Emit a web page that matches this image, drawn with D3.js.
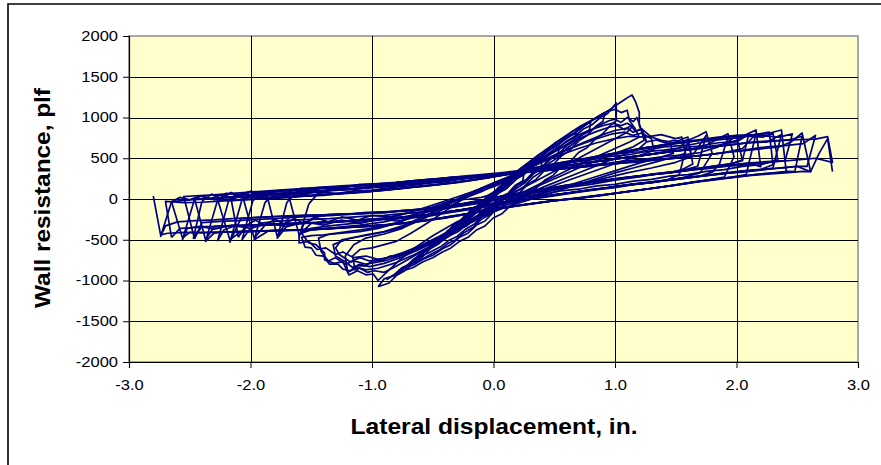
<!DOCTYPE html>
<html>
<head>
<meta charset="utf-8">
<script src="https://cdn.jsdelivr.net/npm/d3@7"></script>
<style>
  body { margin: 0; background: #fff; }
  svg { display: block; }
</style>
</head>
<body>
<svg id="chart" width="881" height="465"></svg>
<script>
// Axis ticks
const xTicks = [-3, -2, -1, 0, 1, 2, 3];
const yTicks = [-2000, -1500, -1000, -500, 0, 500, 1000, 1500, 2000];

// Small-amplitude cycles on the stiff initial branch: [displacement in., resistance plf]
const elasticCycles = [
  [[-0.25,-300],[-0.18,-200],[-0.12,-140],[-0.05,-20],[0.02,50],[0.08,130],[0.15,190],[0.20,260],[0.25,300],[0.24,220],[0.18,170],[0.12,70],[0.05,20],[-0.02,-90],[-0.08,-130],[-0.15,-230],[-0.20,-250],[-0.25,-300]],
  [[-0.38,-430],[-0.32,-330],[-0.26,-290],[-0.20,-180],[-0.14,-130],[-0.08,-40],[-0.02,10],[0.04,110],[0.10,150],[0.16,240],[0.22,290],[0.28,370],[0.34,410],[0.40,470],[0.39,370],[0.33,320],[0.27,220],[0.20,170],[0.14,70],[0.08,20],[0.02,-80],[-0.04,-120],[-0.10,-220],[-0.16,-250],[-0.22,-330],[-0.30,-380],[-0.38,-430]],
  [[-0.52,-600],[-0.46,-520],[-0.40,-440],[-0.33,-380],[-0.26,-270],[-0.19,-210],[-0.12,-100],[-0.05,-40],[0.02,70],[0.09,130],[0.16,240],[0.23,310],[0.30,400],[0.37,460],[0.44,530],[0.50,600],[0.55,650],[0.53,560],[0.47,510],[0.41,410],[0.34,350],[0.27,240],[0.20,180],[0.13,70],[0.06,10],[-0.01,-100],[-0.08,-160],[-0.15,-260],[-0.22,-310],[-0.29,-400],[-0.36,-450],[-0.44,-530],[-0.52,-600]],
  [[-0.66,-760],[-0.60,-700],[-0.53,-600],[-0.46,-540],[-0.39,-430],[-0.32,-370],[-0.25,-260],[-0.18,-190],[-0.11,-80],[-0.04,-20],[0.03,100],[0.10,160],[0.17,270],[0.24,340],[0.31,440],[0.38,500],[0.45,590],[0.52,650],[0.58,720],[0.63,770],[0.68,810],[0.66,710],[0.60,650],[0.54,560],[0.47,490],[0.40,380],[0.33,310],[0.26,200],[0.19,130],[0.12,30],[0.05,-40],[-0.02,-150],[-0.09,-210],[-0.16,-310],[-0.23,-370],[-0.30,-460],[-0.37,-510],[-0.44,-590],[-0.52,-650],[-0.59,-700],[-0.66,-760]],
  [[-0.78,-880],[-0.72,-830],[-0.66,-740],[-0.59,-680],[-0.52,-570],[-0.45,-510],[-0.38,-390],[-0.31,-330],[-0.24,-210],[-0.17,-150],[-0.10,-40],[-0.03,30],[0.04,140],[0.11,200],[0.18,310],[0.25,370],[0.32,470],[0.39,530],[0.46,620],[0.53,680],[0.60,760],[0.67,810],[0.74,890],[0.80,950],[0.79,850],[0.73,790],[0.67,690],[0.60,620],[0.53,510],[0.46,440],[0.39,330],[0.32,260],[0.25,150],[0.18,90],[0.11,-20],[0.04,-80],[-0.03,-190],[-0.10,-250],[-0.17,-350],[-0.24,-410],[-0.31,-500],[-0.38,-550],[-0.45,-630],[-0.52,-680],[-0.60,-750],[-0.68,-800],[-0.78,-880]],
  [[-0.88,-990],[-0.82,-930],[-0.75,-840],[-0.68,-790],[-0.61,-680],[-0.54,-620],[-0.47,-500],[-0.40,-440],[-0.33,-320],[-0.26,-260],[-0.19,-140],[-0.12,-80],[-0.05,40],[0.02,100],[0.09,210],[0.16,270],[0.23,380],[0.30,440],[0.37,540],[0.44,600],[0.51,690],[0.58,750],[0.65,830],[0.72,880],[0.79,950],[0.86,1000],[0.92,1060],[0.90,950],[0.84,890],[0.77,780],[0.70,710],[0.63,600],[0.56,530],[0.49,420],[0.42,350],[0.35,240],[0.28,180],[0.21,70],[0.14,10],[0.07,-100],[0.00,-160],[-0.07,-270],[-0.14,-320],[-0.21,-420],[-0.28,-470],[-0.35,-560],[-0.42,-610],[-0.50,-690],[-0.58,-740],[-0.66,-810],[-0.74,-860],[-0.82,-930],[-0.88,-990]],
  [[-0.95,-1076],[-0.86,-1031],[-0.80,-940],[-0.73,-880],[-0.66,-780],[-0.59,-720],[-0.52,-610],[-0.45,-550],[-0.38,-440],[-0.31,-380],[-0.24,-270],[-0.17,-210],[-0.10,-100],[-0.03,-40],[0.04,70],[0.11,130],[0.18,240],[0.25,300],[0.32,400],[0.39,460],[0.46,560],[0.53,620],[0.60,710],[0.67,770],[0.74,860],[0.81,910],[0.88,1000],[0.94,1050],[1.01,1178],[1.01,960],[0.96,900],[0.90,800],[0.84,740],[0.77,630],[0.70,570],[0.63,460],[0.56,400],[0.49,290],[0.42,230],[0.35,130],[0.28,70],[0.21,-30],[0.14,-80],[0.07,-180],[0.00,-230],[-0.07,-330],[-0.14,-380],[-0.21,-470],[-0.28,-520],[-0.35,-600],[-0.42,-650],[-0.50,-720],[-0.58,-770],[-0.66,-840],[-0.74,-880],[-0.82,-940],[-0.90,-980],[-0.95,-1076]]
];

// Cycles around peak capacity
const peakCycles = [
  [[-0.20,-170],[-0.10,-40],[0.00,80],[0.10,200],[0.20,310],[0.30,430],[0.40,540],[0.50,650],[0.60,750],[0.68,830],[0.76,910],[0.84,990],[0.90,1050],[0.95,1090],[1.00,1140],[1.04,1180],[1.08,1220],[1.11,1250],[1.14,1276],[1.17,1190],[1.20,1060],[1.20,900],[1.26,700],[1.34,724],[1.41,690],[1.48,720],[1.55,700],[1.60,730],[1.63,520],[1.50,450],[1.30,380],[1.10,320],[0.90,250],[0.70,180],[0.50,110],[0.30,40],[0.10,-40],[-0.10,-140],[-0.30,-280],[-0.50,-450],[-0.65,-600],[-0.78,-760],[-0.88,-900],[-0.95,-1000],[-0.99,-920],[-1.05,-930],[-1.12,-880],[-1.19,-932],[-1.24,-769],[-1.31,-790],[-1.39,-748],[-1.39,-665],[-1.46,-560],[-1.52,-540],[-1.58,-421],[-1.50,-360],[-1.35,-330],[-1.15,-300],[-0.95,-260],[-0.75,-190],[-0.55,-100],[-0.35,0],[-0.15,100],[0.05,200],[0.20,280]],
  [[0.20,280],[0.30,380],[0.40,480],[0.50,580],[0.60,670],[0.70,760],[0.80,840],[0.88,910],[0.95,960],[1.00,980],[1.05,940],[1.10,1000],[1.15,950],[1.18,1000],[1.21,880],[1.24,720],[1.15,640],[1.00,560],[0.85,470],[0.70,380],[0.55,280],[0.40,180],[0.25,80],[0.10,-30],[-0.05,-150],[-0.20,-290],[-0.35,-430],[-0.50,-560],[-0.65,-680],[-0.80,-780],[-0.95,-850],[-1.05,-870],[-1.12,-840],[-1.20,-900],[-1.22,-700],[-1.15,-560],[-1.05,-480],[-0.90,-430],[-0.75,-360],[-0.60,-250],[-0.45,-130],[-0.30,-10],[-0.15,100],[0.00,200],[0.15,290]],
  [[0.15,290],[0.25,370],[0.35,460],[0.45,540],[0.55,620],[0.65,700],[0.75,770],[0.85,830],[0.95,880],[1.02,900],[1.08,850],[1.13,900],[1.17,830],[1.22,860],[1.26,700],[1.20,620],[1.05,530],[0.90,440],[0.75,350],[0.60,260],[0.45,170],[0.30,80],[0.15,-10],[0.00,-110],[-0.15,-230],[-0.30,-360],[-0.45,-490],[-0.60,-610],[-0.75,-710],[-0.90,-790],[-1.02,-830],[-1.10,-800],[-1.16,-840],[-1.22,-770],[-1.30,-700],[-1.32,-560],[-1.20,-490],[-1.05,-440],[-0.90,-400],[-0.75,-330],[-0.60,-230],[-0.45,-120],[-0.30,-10],[-0.15,100],[0.00,190],[0.15,280]],
  [[0.15,280],[0.30,390],[0.45,500],[0.60,600],[0.75,700],[0.90,790],[1.00,840],[1.10,870],[1.15,820],[1.22,860],[1.30,760],[1.38,720],[1.45,700],[1.48,560],[1.35,500],[1.20,440],[1.05,370],[0.90,300],[0.75,230],[0.60,160],[0.45,90],[0.30,20],[0.15,-50],[0.00,-130],[-0.15,-230],[-0.30,-350],[-0.45,-470],[-0.60,-590],[-0.75,-690],[-0.90,-760],[-1.05,-800],[-1.15,-760],[-1.22,-800],[-1.30,-720],[-1.36,-760],[-1.42,-640],[-1.44,-480],[-1.35,-430],[-1.20,-400],[-1.05,-370],[-0.90,-330],[-0.75,-270],[-0.60,-190],[-0.45,-100],[-0.30,0],[-0.15,100],[0.00,190],[0.15,270]],
  [[0.10,250],[0.25,360],[0.40,470],[0.55,570],[0.70,660],[0.85,740],[0.98,800],[1.08,820],[1.15,780],[1.22,810],[1.30,740],[1.32,600],[1.20,530],[1.05,460],[0.90,380],[0.75,300],[0.60,220],[0.45,140],[0.30,60],[0.15,-20],[0.00,-110],[-0.15,-220],[-0.30,-340],[-0.45,-460],[-0.60,-570],[-0.75,-660],[-0.90,-730],[-1.02,-760],[-1.10,-720],[-1.18,-770],[-1.27,-680],[-1.30,-600],[-1.25,-500],[-1.10,-460],[-0.95,-420],[-0.80,-370],[-0.65,-290],[-0.50,-190],[-0.35,-80],[-0.20,40],[-0.05,150],[0.10,250]],
  [[0.10,240],[0.25,350],[0.40,450],[0.55,540],[0.70,620],[0.85,690],[1.00,740],[1.12,770],[1.25,760],[1.38,790],[1.50,740],[1.55,760],[1.58,560],[1.45,500],[1.30,440],[1.15,380],[1.00,320],[0.85,250],[0.70,180],[0.55,110],[0.40,40],[0.25,-30],[0.10,-100],[-0.05,-190],[-0.20,-300],[-0.35,-410],[-0.50,-520],[-0.65,-620],[-0.80,-700],[-0.95,-740],[-1.05,-700],[-1.15,-720],[-1.24,-650],[-1.30,-680],[-1.38,-600],[-1.45,-620],[-1.52,-520],[-1.60,-540],[-1.60,-430],[-1.50,-380],[-1.30,-350],[-1.10,-320],[-0.90,-280],[-0.70,-210],[-0.50,-120],[-0.30,-20],[-0.10,90],[0.10,240]],
  [[0.05,180],[0.20,350],[0.35,520],[0.50,680],[0.62,800],[0.72,900],[0.80,960],[0.88,1030],[0.95,1080],[1.00,1100],[1.05,1060],[1.10,1090],[1.12,960],[1.15,900],[1.10,820],[0.95,700],[0.80,580],[0.65,460],[0.50,340],[0.35,220],[0.20,100],[0.05,-30],[-0.10,-170],[-0.25,-320],[-0.40,-470],[-0.55,-610],[-0.70,-740],[-0.82,-840],[-0.90,-900],[-0.98,-880],[-1.04,-900],[-1.10,-850],[-1.14,-870],[-1.16,-700],[-1.10,-620],[-1.00,-600],[-0.90,-560],[-0.80,-520],[-0.68,-420],[-0.55,-300],[-0.40,-150],[-0.25,0],[-0.10,100],[0.05,180]],
  [[0.00,60],[0.15,230],[0.30,400],[0.45,560],[0.60,700],[0.72,800],[0.82,860],[0.90,900],[0.98,930],[1.05,900],[1.10,930],[1.16,880],[1.20,760],[1.12,700],[1.00,620],[0.85,520],[0.70,420],[0.55,310],[0.40,200],[0.25,90],[0.10,-30],[-0.05,-160],[-0.20,-290],[-0.35,-420],[-0.50,-540],[-0.65,-640],[-0.78,-700],[-0.85,-700],[-0.92,-760],[-1.00,-760],[-1.05,-820],[-1.12,-820],[-1.18,-880],[-1.24,-860],[-1.28,-800],[-1.35,-800],[-1.40,-700],[-1.46,-690],[-1.50,-600],[-1.55,-590],[-1.58,-470],[-1.50,-450],[-1.40,-440],[-1.25,-420],[-1.10,-400],[-0.95,-360],[-0.80,-300],[-0.65,-200],[-0.50,-100],[-0.35,-20],[-0.20,0],[-0.10,20],[0.00,60]]
];

// Large post-peak cycles, two at each target amplitude
const wideCycles = [
  [[-1.52,-60],[-1.45,60],[-1.30,140],[-1.20,150],[-1.10,180],[-0.95,175],[-0.80,200],[-0.65,225],[-0.50,235],[-0.35,270],[-0.20,275],[-0.05,300],[0.10,315],[0.25,350],[0.40,385],[0.55,440],[0.70,470],[0.85,525],[1.00,550],[1.15,600],[1.30,640],[1.40,660],[1.50,700],[1.56,740],[1.60,760],[1.64,430],[1.55,360],[1.45,320],[1.35,310],[1.20,280],[1.05,250],[0.90,230],[0.75,190],[0.60,170],[0.45,120],[0.30,100],[0.15,50],[0.00,20],[-0.15,-40],[-0.30,-70],[-0.45,-100],[-0.60,-135],[-0.75,-140],[-0.90,-170],[-1.05,-165],[-1.20,-190],[-1.35,-190],[-1.48,-230],[-1.56,-300],[-1.60,-460],[-1.52,-60]],
  [[-1.60,-440],[-1.50,-300],[-1.40,-290],[-1.25,-270],[-1.10,-265],[-0.95,-240],[-0.80,-235],[-0.65,-210],[-0.50,-190],[-0.35,-150],[-0.20,-120],[-0.05,-80],[0.10,-40],[0.25,0],[0.40,30],[0.55,60],[0.70,95],[0.85,120],[1.00,150],[1.15,185],[1.30,200],[1.42,230],[1.53,300],[1.60,720],[1.52,620],[1.40,580],[1.25,540],[1.10,515],[0.95,475],[0.80,455],[0.65,420],[0.50,395],[0.35,360],[0.20,335],[0.05,305],[-0.10,280],[-0.25,255],[-0.40,225],[-0.55,200],[-0.70,185],[-0.85,155],[-1.00,145],[-1.15,120],[-1.30,115],[-1.45,85],[-1.58,60],[-1.68,10],[-1.60,-440]],
  [[-1.70,-40],[-1.62,90],[-1.50,120],[-1.35,150],[-1.20,150],[-1.05,180],[-0.90,180],[-0.75,210],[-0.60,220],[-0.45,250],[-0.30,260],[-0.15,285],[0.00,300],[0.15,325],[0.30,360],[0.45,400],[0.60,450],[0.75,480],[0.90,530],[1.05,560],[1.20,610],[1.35,640],[1.50,690],[1.60,720],[1.68,770],[1.75,826],[1.80,560],[1.70,320],[1.55,260],[1.40,225],[1.25,200],[1.10,175],[0.95,140],[0.80,115],[0.65,80],[0.50,55],[0.35,15],[0.20,-10],[0.05,-60],[-0.10,-85],[-0.25,-135],[-0.40,-160],[-0.55,-200],[-0.70,-215],[-0.85,-245],[-1.00,-250],[-1.15,-265],[-1.30,-275],[-1.45,-290],[-1.60,-300],[-1.70,-330],[-1.78,-480],[-1.70,-40]],
  [[-1.78,-460],[-1.68,-220],[-1.55,-200],[-1.40,-200],[-1.25,-185],[-1.10,-180],[-0.95,-160],[-0.80,-150],[-0.65,-130],[-0.50,-110],[-0.35,-80],[-0.20,-40],[-0.05,0],[0.10,45],[0.25,80],[0.40,120],[0.55,150],[0.70,185],[0.85,215],[1.00,245],[1.15,275],[1.30,300],[1.45,320],[1.58,360],[1.68,400],[1.75,780],[1.65,560],[1.50,500],[1.35,485],[1.20,460],[1.05,445],[0.90,420],[0.75,400],[0.60,375],[0.45,355],[0.30,330],[0.15,310],[0.00,275],[-0.15,240],[-0.30,210],[-0.45,180],[-0.60,160],[-0.75,130],[-0.90,110],[-1.05,85],[-1.20,70],[-1.35,55],[-1.50,40],[-1.65,25],[-1.78,10],[-1.86,20],[-1.78,-460]],
  [[-1.88,-40],[-1.80,60],[-1.70,40],[-1.60,95],[-1.50,80],[-1.35,110],[-1.20,115],[-1.05,140],[-0.90,150],[-0.75,180],[-0.60,190],[-0.45,220],[-0.30,245],[-0.15,270],[0.00,295],[0.15,320],[0.30,350],[0.45,380],[0.60,410],[0.75,440],[0.90,470],[1.05,500],[1.20,530],[1.35,560],[1.50,590],[1.65,620],[1.75,660],[1.85,740],[1.93,800],[1.98,519],[1.90,270],[1.75,230],[1.60,190],[1.45,160],[1.30,130],[1.15,100],[1.00,70],[0.85,40],[0.70,10],[0.55,-15],[0.40,-40],[0.25,-70],[0.10,-100],[-0.05,-140],[-0.20,-175],[-0.35,-210],[-0.50,-250],[-0.65,-280],[-0.80,-310],[-0.95,-320],[-1.10,-340],[-1.25,-350],[-1.40,-370],[-1.55,-375],[-1.70,-385],[-1.85,-390],[-1.97,-500],[-1.88,-40]],
  [[-1.97,-480],[-1.88,-320],[-1.75,-305],[-1.60,-295],[-1.45,-290],[-1.30,-280],[-1.15,-265],[-1.00,-250],[-0.85,-240],[-0.70,-220],[-0.55,-200],[-0.40,-165],[-0.25,-130],[-0.10,-90],[0.05,-50],[0.20,-20],[0.35,15],[0.50,50],[0.65,80],[0.80,110],[0.95,140],[1.10,170],[1.25,195],[1.40,230],[1.55,255],[1.70,280],[1.80,330],[1.86,430],[1.93,760],[1.85,740],[1.75,730],[1.60,700],[1.45,670],[1.30,640],[1.15,600],[1.00,560],[0.85,520],[0.70,475],[0.55,440],[0.40,390],[0.25,350],[0.10,315],[-0.05,295],[-0.20,275],[-0.35,260],[-0.50,240],[-0.65,220],[-0.80,200],[-0.95,185],[-1.10,165],[-1.25,150],[-1.40,135],[-1.55,125],[-1.70,100],[-1.85,90],[-1.97,60],[-2.06,10],[-1.97,-480]],
  [[-2.07,-10],[-2.00,40],[-1.90,20],[-1.80,70],[-1.70,50],[-1.55,95],[-1.40,100],[-1.25,120],[-1.10,130],[-0.95,150],[-0.80,170],[-0.65,190],[-0.50,215],[-0.35,240],[-0.20,265],[-0.05,295],[0.10,315],[0.25,345],[0.40,370],[0.55,400],[0.70,430],[0.85,460],[1.00,490],[1.15,520],[1.30,550],[1.45,580],[1.60,610],[1.75,640],[1.90,670],[2.00,720],[2.08,790],[2.16,847],[2.20,397],[2.10,440],[1.95,410],[1.80,380],[1.65,360],[1.50,330],[1.35,310],[1.20,280],[1.05,255],[0.90,225],[0.75,195],[0.60,160],[0.45,130],[0.30,95],[0.15,55],[0.00,10],[-0.15,-30],[-0.30,-75],[-0.45,-105],[-0.60,-125],[-0.75,-145],[-0.90,-160],[-1.05,-170],[-1.20,-185],[-1.35,-190],[-1.50,-200],[-1.65,-205],[-1.80,-215],[-1.95,-225],[-2.08,-240],[-2.17,-530],[-2.07,-10]],
  [[-2.17,-500],[-2.08,-400],[-1.95,-395],[-1.80,-385],[-1.65,-385],[-1.50,-375],[-1.35,-365],[-1.20,-350],[-1.05,-335],[-0.90,-320],[-0.75,-300],[-0.60,-275],[-0.45,-240],[-0.30,-205],[-0.15,-165],[0.00,-125],[0.15,-95],[0.30,-60],[0.45,-30],[0.60,0],[0.75,20],[0.90,50],[1.05,80],[1.20,110],[1.35,140],[1.50,170],[1.65,210],[1.80,235],[1.95,265],[2.08,300],[2.16,800],[2.05,620],[1.90,570],[1.75,540],[1.60,520],[1.45,500],[1.30,480],[1.15,460],[1.00,430],[0.85,415],[0.70,390],[0.55,370],[0.40,345],[0.25,330],[0.10,305],[-0.05,260],[-0.20,225],[-0.35,195],[-0.50,170],[-0.65,150],[-0.80,125],[-0.95,110],[-1.10,85],[-1.25,70],[-1.40,45],[-1.55,35],[-1.70,20],[-1.85,5],[-2.00,-5],[-2.15,-20],[-2.27,-10],[-2.17,-500]],
  [[-2.27,-10],[-2.20,70],[-2.10,50],[-2.00,95],[-1.90,70],[-1.75,110],[-1.60,115],[-1.45,140],[-1.30,150],[-1.15,165],[-1.00,175],[-0.85,190],[-0.70,210],[-0.55,235],[-0.40,250],[-0.25,270],[-0.10,290],[0.05,310],[0.20,335],[0.35,375],[0.50,420],[0.65,460],[0.80,500],[0.95,540],[1.10,585],[1.25,620],[1.40,660],[1.55,690],[1.70,720],[1.85,750],[2.00,770],[2.15,790],[2.25,800],[2.37,847],[2.41,330],[2.30,319],[2.15,300],[2.00,270],[1.85,250],[1.70,220],[1.55,185],[1.40,150],[1.25,120],[1.10,90],[0.95,60],[0.80,30],[0.65,0],[0.50,-20],[0.35,-50],[0.20,-80],[0.05,-115],[-0.10,-150],[-0.25,-190],[-0.40,-225],[-0.55,-260],[-0.70,-290],[-0.85,-310],[-1.00,-330],[-1.15,-340],[-1.30,-355],[-1.45,-370],[-1.60,-380],[-1.75,-385],[-1.90,-395],[-2.05,-400],[-2.20,-405],[-2.30,-420],[-2.37,-520],[-2.27,-10]],
  [[-2.37,-500],[-2.30,-340],[-2.15,-330],[-2.00,-320],[-1.85,-315],[-1.70,-305],[-1.55,-295],[-1.40,-285],[-1.25,-275],[-1.10,-260],[-0.95,-245],[-0.80,-230],[-0.65,-205],[-0.50,-185],[-0.35,-150],[-0.20,-120],[-0.05,-80],[0.10,-45],[0.25,-5],[0.40,25],[0.55,55],[0.70,90],[0.85,120],[1.00,150],[1.15,180],[1.30,200],[1.45,235],[1.60,260],[1.75,285],[1.90,310],[2.05,340],[2.20,360],[2.30,380],[2.37,790],[2.25,700],[2.10,690],[1.95,665],[1.80,640],[1.65,615],[1.50,590],[1.35,560],[1.20,530],[1.05,500],[0.90,470],[0.75,440],[0.60,410],[0.45,380],[0.30,350],[0.15,325],[0.00,295],[-0.15,265],[-0.30,245],[-0.45,215],[-0.60,195],[-0.75,175],[-0.90,155],[-1.05,140],[-1.20,120],[-1.35,105],[-1.50,90],[-1.65,75],[-1.80,55],[-1.95,45],[-2.10,25],[-2.25,15],[-2.35,5],[-2.46,0],[-2.37,-500]],
  [[-2.46,0],[-2.40,40],[-2.30,-10],[-2.20,30],[-2.10,-10],[-2.00,20],[-1.85,20],[-1.70,35],[-1.55,40],[-1.40,55],[-1.25,70],[-1.10,85],[-0.95,100],[-0.80,120],[-0.65,145],[-0.50,170],[-0.35,200],[-0.20,230],[-0.05,265],[0.10,300],[0.25,325],[0.40,345],[0.55,370],[0.70,390],[0.85,410],[1.00,435],[1.15,455],[1.30,480],[1.45,495],[1.60,515],[1.75,540],[1.90,570],[2.05,590],[2.20,615],[2.35,640],[2.45,700],[2.54,810],[2.61,335],[2.50,400],[2.35,380],[2.20,355],[2.05,330],[1.90,315],[1.75,290],[1.60,260],[1.45,230],[1.30,205],[1.15,180],[1.00,155],[0.85,120],[0.70,90],[0.55,60],[0.40,25],[0.25,-10],[0.10,-40],[-0.05,-80],[-0.20,-120],[-0.35,-150],[-0.50,-190],[-0.65,-210],[-0.80,-230],[-0.95,-245],[-1.10,-260],[-1.25,-275],[-1.40,-285],[-1.55,-290],[-1.70,-305],[-1.85,-315],[-2.00,-320],[-2.15,-325],[-2.30,-335],[-2.45,-340],[-2.52,-360],[-2.56,-500],[-2.46,0]],
  [[-2.56,-480],[-2.50,-410],[-2.35,-410],[-2.20,-405],[-2.05,-400],[-1.90,-395],[-1.75,-385],[-1.60,-380],[-1.45,-370],[-1.30,-360],[-1.15,-345],[-1.00,-330],[-0.85,-315],[-0.70,-290],[-0.55,-265],[-0.40,-235],[-0.25,-195],[-0.10,-155],[0.05,-120],[0.20,-85],[0.35,-55],[0.50,-20],[0.65,5],[0.80,35],[0.95,60],[1.10,90],[1.25,120],[1.40,150],[1.55,185],[1.70,220],[1.85,250],[2.00,275],[2.15,300],[2.30,320],[2.42,340],[2.48,335],[2.54,770],[2.45,730],[2.30,715],[2.15,700],[2.00,675],[1.85,650],[1.70,625],[1.55,595],[1.40,570],[1.25,540],[1.10,515],[0.95,480],[0.80,450],[0.65,420],[0.50,390],[0.35,360],[0.20,330],[0.05,310],[-0.10,280],[-0.25,250],[-0.40,225],[-0.55,200],[-0.70,180],[-0.85,160],[-1.00,140],[-1.15,125],[-1.30,105],[-1.45,90],[-1.60,75],[-1.75,60],[-1.90,45],[-2.05,30],[-2.20,15],[-2.35,0],[-2.50,-10],[-2.65,-33],[-2.56,-480]],
  [[-2.65,-33],[-2.58,20],[-2.50,-10],[-2.42,40],[-2.34,0],[-2.25,50],[-2.15,20],[-2.05,60],[-1.95,40],[-1.80,70],[-1.65,80],[-1.50,95],[-1.35,110],[-1.20,120],[-1.05,140],[-0.90,155],[-0.75,175],[-0.60,195],[-0.45,215],[-0.30,245],[-0.15,265],[0.00,295],[0.15,320],[0.30,350],[0.45,380],[0.60,410],[0.75,440],[0.90,470],[1.05,500],[1.20,525],[1.35,560],[1.50,590],[1.65,610],[1.80,640],[1.95,665],[2.10,690],[2.25,705],[2.40,720],[2.55,730],[2.65,735],[2.75,765],[2.79,450],[2.65,500],[2.50,480],[2.35,460],[2.20,440],[2.05,415],[1.90,400],[1.75,375],[1.60,350],[1.45,320],[1.30,300],[1.15,270],[1.00,240],[0.85,215],[0.70,185],[0.55,150],[0.40,115],[0.25,80],[0.10,40],[-0.05,-5],[-0.20,-50],[-0.35,-85],[-0.50,-110],[-0.65,-135],[-0.80,-150],[-0.95,-165],[-1.10,-175],[-1.25,-185],[-1.40,-195],[-1.55,-200],[-1.70,-210],[-1.85,-220],[-2.00,-230],[-2.15,-240],[-2.30,-255],[-2.45,-265],[-2.60,-280],[-2.70,-330],[-2.74,-460],[-2.65,-33]]
];

// Intermediate-amplitude cycles between the target levels
const extraCycles = [
  [[-1.98,-20],[-1.92,50],[-1.84,0],[-1.76,60],[-1.68,10],[-1.60,70],[-1.50,40],[-1.40,80],[-1.28,70],[-1.15,100],[-1.00,110],[-0.85,140],[-0.70,160],[-0.55,190],[-0.40,210],[-0.25,250],[-0.10,280],[0.05,310],[0.20,330],[0.35,350],[0.50,370],[0.65,395],[0.80,420],[0.95,440],[1.10,470],[1.25,490],[1.40,520],[1.55,540],[1.70,570],[1.85,640],[1.95,720],[2.00,780],[2.05,470],[1.95,430],[1.80,400],[1.65,370],[1.50,340],[1.35,310],[1.20,285],[1.05,255],[0.90,220],[0.75,190],[0.60,150],[0.45,110],[0.30,70],[0.15,30],[0.00,-20],[-0.15,-60],[-0.30,-95],[-0.45,-130],[-0.60,-160],[-0.75,-180],[-0.90,-200],[-1.05,-210],[-1.20,-225],[-1.35,-240],[-1.50,-250],[-1.65,-260],[-1.80,-275],[-1.92,-300],[-2.00,-360],[-2.07,-500],[-1.98,-20]],
  [[-2.18,-20],[-2.12,60],[-2.04,20],[-1.96,90],[-1.88,40],[-1.80,100],[-1.70,80],[-1.58,130],[-1.45,120],[-1.30,150],[-1.15,160],[-1.00,180],[-0.85,190],[-0.70,215],[-0.55,240],[-0.40,255],[-0.25,280],[-0.10,300],[0.05,320],[0.20,345],[0.35,390],[0.50,430],[0.65,470],[0.80,510],[0.95,550],[1.10,590],[1.25,630],[1.40,665],[1.55,700],[1.70,730],[1.85,760],[2.00,780],[2.15,790],[2.27,820],[2.30,420],[2.20,365],[2.05,345],[1.90,320],[1.75,290],[1.60,260],[1.45,230],[1.30,200],[1.15,175],[1.00,140],[0.85,115],[0.70,85],[0.55,50],[0.40,15],[0.25,-15],[0.10,-50],[-0.05,-95],[-0.20,-130],[-0.35,-165],[-0.50,-200],[-0.65,-220],[-0.80,-240],[-0.95,-255],[-1.10,-265],[-1.25,-280],[-1.40,-290],[-1.55,-300],[-1.70,-310],[-1.85,-320],[-2.00,-330],[-2.15,-340],[-2.22,-380],[-2.27,-510],[-2.18,-20]],
  [[-2.46,-490],[-2.40,-290],[-2.25,-275],[-2.10,-265],[-1.95,-250],[-1.80,-240],[-1.65,-225],[-1.50,-215],[-1.35,-205],[-1.20,-190],[-1.05,-180],[-0.90,-165],[-0.75,-150],[-0.60,-130],[-0.45,-105],[-0.30,-75],[-0.15,-35],[0.00,10],[0.15,55],[0.30,90],[0.45,130],[0.60,170],[0.75,200],[0.90,230],[1.05,260],[1.20,285],[1.35,315],[1.50,335],[1.65,365],[1.80,395],[1.95,420],[2.10,440],[2.25,460],[2.40,470],[2.46,800],[2.35,760],[2.20,780],[2.05,775],[1.90,760],[1.75,730],[1.60,700],[1.45,680],[1.30,640],[1.15,600],[1.00,560],[0.85,520],[0.70,475],[0.55,435],[0.40,390],[0.25,350],[0.10,320],[-0.05,295],[-0.20,275],[-0.35,260],[-0.50,240],[-0.65,225],[-0.80,205],[-0.95,190],[-1.10,175],[-1.25,160],[-1.40,145],[-1.55,130],[-1.70,115],[-1.85,100],[-2.00,85],[-2.15,70],[-2.30,50],[-2.45,40],[-2.55,30],[-2.46,-490]],
  [[-2.65,-470],[-2.58,-360],[-2.45,-350],[-2.30,-340],[-2.15,-330],[-2.00,-320],[-1.85,-310],[-1.70,-300],[-1.55,-295],[-1.40,-285],[-1.25,-275],[-1.10,-260],[-0.95,-245],[-0.80,-225],[-0.65,-210],[-0.50,-185],[-0.35,-150],[-0.20,-115],[-0.05,-80],[0.10,-40],[0.25,0],[0.40,25],[0.55,60],[0.70,90],[0.85,125],[1.00,150],[1.15,180],[1.30,210],[1.45,235],[1.60,265],[1.75,285],[1.90,315],[2.05,340],[2.20,360],[2.35,380],[2.50,400],[2.58,400],[2.65,780],[2.55,680],[2.40,655],[2.25,640],[2.10,610],[1.95,580],[1.80,550],[1.65,525],[1.50,500],[1.35,480],[1.20,455],[1.05,440],[0.90,420],[0.75,395],[0.60,375],[0.45,350],[0.30,335],[0.15,310],[0.00,270],[-0.15,235],[-0.30,200],[-0.45,175],[-0.60,150],[-0.75,135],[-0.90,110],[-1.05,90],[-1.20,75],[-1.35,60],[-1.50,45],[-1.65,30],[-1.80,15],[-1.95,0],[-2.10,-10],[-2.25,-25],[-2.40,-40],[-2.55,-45],[-2.70,-30],[-2.65,-470]],
  [[-2.40,-30],[-2.32,60],[-2.24,10],[-2.16,80],[-2.08,20],[-2.00,90],[-1.92,40],[-1.84,100],[-1.76,50],[-1.66,110],[-1.55,90],[-1.45,130],[-1.30,130],[-1.15,160],[-1.00,160],[-0.85,190],[-0.70,200],[-0.55,230],[-0.40,240],[-0.25,270],[-0.10,290],[0.05,310],[0.20,330],[0.40,400],[0.60,460],[0.80,500],[1.00,560],[1.20,580],[1.40,640],[1.60,660],[1.80,720],[1.95,740],[2.10,770],[2.22,760],[2.30,810],[2.34,480],[2.20,420],[2.05,400],[1.90,360],[1.75,340],[1.60,300],[1.45,280],[1.30,240],[1.15,220],[1.00,180],[0.85,160],[0.70,120],[0.55,100],[0.40,50],[0.25,30],[0.10,-30],[-0.05,-60],[-0.20,-120],[-0.35,-150],[-0.50,-200],[-0.65,-230],[-0.80,-270],[-0.95,-240],[-1.10,-300],[-1.25,-260],[-1.40,-320],[-1.55,-280],[-1.70,-340],[-1.85,-300],[-2.00,-360],[-2.15,-320],[-2.30,-370],[-2.40,-340],[-2.47,-480],[-2.40,-30]],
  [[-2.10,-470],[-2.04,-330],[-1.96,-260],[-1.88,-320],[-1.80,-250],[-1.72,-310],[-1.64,-240],[-1.56,-300],[-1.46,-230],[-1.36,-280],[-1.25,-220],[-1.12,-260],[-1.00,-200],[-0.85,-220],[-0.70,-170],[-0.55,-160],[-0.40,-110],[-0.25,-80],[-0.10,-40],[0.05,0],[0.20,40],[0.40,90],[0.60,140],[0.80,180],[1.00,230],[1.20,270],[1.40,320],[1.60,350],[1.80,400],[1.95,430],[2.05,480],[2.10,790],[2.00,700],[1.85,690],[1.70,650],[1.55,630],[1.40,600],[1.25,580],[1.10,540],[0.95,520],[0.80,480],[0.65,450],[0.50,410],[0.35,380],[0.20,340],[0.05,310],[-0.10,290],[-0.25,260],[-0.40,245],[-0.55,215],[-0.70,200],[-0.85,170],[-1.00,150],[-1.15,130],[-1.30,120],[-1.45,90],[-1.58,100],[-1.70,50],[-1.82,80],[-1.94,20],[-2.05,60],[-2.16,0],[-2.10,-470]]
];

// Last excursion to the stroke limit
const finalRun = [
  [[-2.80,37],[-2.74,-440],[-2.68,-420],[-2.55,-410],[-2.40,-415],[-2.25,-405],[-2.10,-400],[-1.95,-395],[-1.80,-390],[-1.65,-380],[-1.50,-375],[-1.35,-365],[-1.20,-350],[-1.05,-340],[-0.90,-320],[-0.75,-295],[-0.60,-270],[-0.45,-240],[-0.30,-205],[-0.15,-165],[0.00,-125],[0.15,-90],[0.30,-60],[0.45,-30],[0.60,-5],[0.75,15],[0.90,45],[1.05,80],[1.20,110],[1.35,140],[1.50,170],[1.65,205],[1.80,230],[1.95,260],[2.10,285],[2.25,305],[2.40,320],[2.55,340],[2.61,335],[2.68,560],[2.75,740],[2.79,335]]
];

const W = 881, H = 465;
const plot = { left: 129, right: 858, top: 36, bottom: 362 };

const svg = d3.select("#chart");
const x = d3.scaleLinear().domain([-3, 3]).range([plot.left, plot.right]);
const y = d3.scaleLinear().domain([-2000, 2000]).range([plot.bottom, plot.top]);

// Outer frame (top and left edges)
svg.append("rect").attr("x", 0).attr("y", 0).attr("width", W).attr("height", H).attr("fill", "#fff");
svg.append("path").attr("d", `M8,${H} L8,4 L${W},4`).attr("fill", "none").attr("stroke", "#000").attr("stroke-width", 1.6);

// Plot area
svg.append("rect")
  .attr("x", plot.left).attr("y", plot.top)
  .attr("width", plot.right - plot.left).attr("height", plot.bottom - plot.top)
  .attr("fill", "#FFFFCC").attr("stroke", "#8c8c8c").attr("stroke-width", 1.5);

// Gridlines
const grid = svg.append("g").attr("stroke", "#000").attr("stroke-width", 1).attr("shape-rendering", "crispEdges");
yTicks.slice(1, -1).forEach(v => {
  grid.append("line").attr("x1", plot.left).attr("x2", plot.right).attr("y1", Math.round(y(v)) + 0.5).attr("y2", Math.round(y(v)) + 0.5);
});
xTicks.slice(1, -1).forEach(v => {
  grid.append("line").attr("y1", plot.top).attr("y2", plot.bottom).attr("x1", Math.round(x(v)) + 0.5).attr("x2", Math.round(x(v)) + 0.5);
});

// Hysteresis curves
const line = d3.line().x(d => x(d[0])).y(d => y(d[1]));
const curves = [].concat(elasticCycles, peakCycles, wideCycles, extraCycles, finalRun);
svg.append("g").selectAll("path").data(curves).join("path")
  .attr("d", line)
  .attr("fill", "none")
  .attr("stroke", "#000080")
  .attr("stroke-width", 1.7)
  .attr("stroke-linejoin", "round");

// Axes
const fontFam = "'Liberation Sans', Arial, sans-serif";
const yAxis = svg.append("g").attr("transform", `translate(${plot.left},0)`)
  .call(d3.axisLeft(y).tickValues(yTicks).tickSize(6).tickPadding(5).tickFormat(d => String(d)));
const xAxis = svg.append("g").attr("transform", `translate(0,${plot.bottom})`)
  .call(d3.axisBottom(x).tickValues(xTicks).tickSize(6).tickPadding(12).tickFormat(d => d.toFixed(1)));
[yAxis, xAxis].forEach(g => {
  g.select(".domain").attr("stroke", "#000").attr("stroke-width", 1.2);
  g.selectAll(".tick line").attr("stroke", "#000");
  g.selectAll("text").attr("font-family", fontFam).attr("font-size", 14).attr("fill", "#000");
});
// slightly wide tick lettering
[yAxis, xAxis].forEach(g => g.selectAll("text").each(function () {
  const n = this.getComputedTextLength();
  d3.select(this).attr("textLength", n * 1.18).attr("lengthAdjust", "spacingAndGlyphs");
}));

// Axis titles
svg.append("text")
  .attr("transform", `translate(50,198) rotate(-90)`)
  .attr("text-anchor", "middle")
  .attr("font-family", fontFam).attr("font-weight", "bold").attr("font-size", 22)
  .attr("textLength", 220).attr("lengthAdjust", "spacingAndGlyphs")
  .text("Wall resistance, plf");
svg.append("text")
  .attr("x", 494).attr("y", 434)
  .attr("text-anchor", "middle")
  .attr("font-family", fontFam).attr("font-weight", "bold").attr("font-size", 22)
  .attr("textLength", 287).attr("lengthAdjust", "spacingAndGlyphs")
  .text("Lateral displacement, in.");
</script>
</body>
</html>
